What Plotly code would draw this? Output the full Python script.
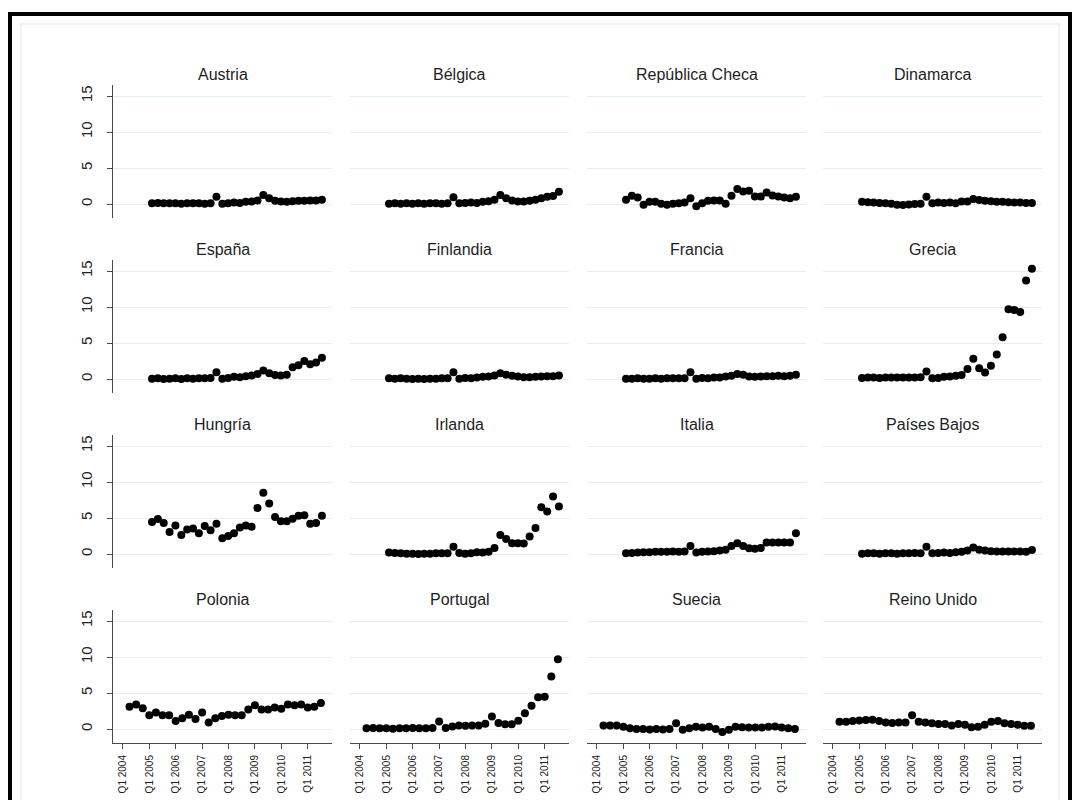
import plotly.graph_objects as go

# Quarter index: 0 = Q1 2004; observations Q2 2004 .. Q3 2011
quarters = list(range(1, 31))
tick_vals = [0, 4, 8, 12, 16, 20, 24, 28]
tick_text = ["Q1 2004", "Q1 2005", "Q1 2006", "Q1 2007",
             "Q1 2008", "Q1 2009", "Q1 2010", "Q1 2011"]
y_ticks = [0, 5, 10, 15]

countries = ["Austria", "Bélgica", "República Checa", "Dinamarca",
             "España", "Finlandia", "Francia", "Grecia",
             "Hungría", "Irlanda", "Italia", "Países Bajos",
             "Polonia", "Portugal", "Suecia", "Reino Unido"]

austria = [0.1,0.15,0.1,0.1,0.1,0.05,0.1,0.1,0.1,0.05,0.1,1.0,0.05,0.1,0.2,0.15,0.3,0.35,0.5,1.25,0.8,0.45,0.35,0.3,0.4,0.45,0.45,0.5,0.5,0.6]
belgica = [0.05,0.1,0.05,0.1,0.05,0.1,0.05,0.1,0.1,0.05,0.1,0.95,0.1,0.15,0.2,0.15,0.3,0.4,0.6,1.25,0.8,0.5,0.35,0.35,0.45,0.6,0.8,1.0,1.1,1.7]
rep_checa = [0.6,1.15,0.9,-0.1,0.3,0.3,0.05,-0.1,0.05,0.1,0.2,0.8,-0.3,0.1,0.45,0.5,0.5,0.05,1.15,2.1,1.75,1.85,1.05,1.05,1.6,1.2,1.05,0.9,0.8,1.0]
dinamarca = [0.3,0.25,0.2,0.15,0.1,0.05,-0.1,-0.15,-0.05,0.0,0.05,1.0,0.1,0.2,0.15,0.2,0.1,0.35,0.35,0.7,0.55,0.45,0.4,0.3,0.3,0.25,0.2,0.2,0.15,0.15]
espana = [0.05,0.1,0.0,0.05,0.1,0.0,0.1,0.05,0.1,0.1,0.15,0.95,0.05,0.15,0.3,0.25,0.4,0.5,0.7,1.2,0.8,0.55,0.5,0.6,1.65,1.9,2.5,2.05,2.3,2.95]
finlandia = [0.1,0.05,0.1,0.05,0.0,0.05,0.0,0.05,0.05,0.1,0.1,0.95,0.05,0.15,0.1,0.2,0.3,0.35,0.5,0.8,0.6,0.45,0.35,0.25,0.25,0.3,0.35,0.4,0.4,0.5]
francia = [0.05,0.05,0.1,0.05,0.05,0.1,0.05,0.1,0.1,0.1,0.1,0.95,0.05,0.15,0.1,0.2,0.2,0.35,0.45,0.7,0.6,0.35,0.3,0.35,0.4,0.4,0.45,0.4,0.45,0.6]
grecia = [0.15,0.2,0.2,0.15,0.2,0.2,0.2,0.2,0.2,0.2,0.25,1.05,0.1,0.15,0.3,0.35,0.45,0.55,1.4,2.8,1.5,0.9,1.85,3.4,5.8,9.7,9.6,9.3,13.7,15.3]
hungria = [4.45,4.85,4.3,3.05,3.95,2.65,3.4,3.55,2.9,3.9,3.3,4.2,2.2,2.5,2.9,3.7,3.95,3.8,6.4,8.5,7.0,5.15,4.55,4.55,4.9,5.3,5.4,4.2,4.3,5.3]
irlanda = [0.2,0.15,0.1,0.05,0.05,0.0,0.05,0.05,0.1,0.1,0.1,1.0,0.15,0.05,0.1,0.25,0.2,0.3,0.85,2.65,2.1,1.5,1.5,1.45,2.45,3.6,6.5,5.9,8.0,6.6]
italia = [0.1,0.15,0.2,0.25,0.25,0.3,0.3,0.3,0.35,0.3,0.35,1.1,0.2,0.3,0.35,0.4,0.5,0.6,1.1,1.5,1.1,0.8,0.75,0.85,1.6,1.6,1.6,1.6,1.6,2.9]
paises_bajos = [0.05,0.1,0.1,0.05,0.1,0.1,0.05,0.1,0.1,0.15,0.1,1.0,0.1,0.15,0.2,0.15,0.25,0.3,0.5,0.9,0.6,0.5,0.4,0.35,0.35,0.35,0.35,0.35,0.3,0.55]
polonia = [3.1,3.4,2.9,1.9,2.3,1.9,1.9,1.1,1.5,2.0,1.4,2.3,0.9,1.5,1.8,2.0,1.9,1.9,2.7,3.3,2.7,2.7,3.0,2.8,3.4,3.3,3.4,3.0,3.1,3.6]
portugal = [0.1,0.15,0.1,0.1,0.05,0.1,0.1,0.15,0.1,0.1,0.15,1.05,0.15,0.35,0.5,0.45,0.5,0.5,0.75,1.75,0.85,0.65,0.65,1.15,2.2,3.25,4.4,4.5,7.3,9.7]
suecia = [0.5,0.5,0.5,0.3,0.1,0.0,0.0,-0.05,0.0,-0.05,0.0,0.8,-0.1,0.1,0.3,0.2,0.3,0.0,-0.4,-0.1,0.3,0.25,0.2,0.2,0.2,0.3,0.35,0.2,0.1,0.0]
reino_unido = [1.0,1.0,1.1,1.2,1.25,1.3,1.1,0.9,0.85,0.9,0.9,1.9,1.0,0.9,0.8,0.7,0.7,0.5,0.7,0.6,0.25,0.3,0.6,1.0,1.1,0.8,0.7,0.6,0.45,0.45]

series = [austria, belgica, rep_checa, dinamarca,
          espana, finlandia, francia, grecia,
          hungria, irlanda, italia, paises_bajos,
          polonia, portugal, suecia, reino_unido]

# page body has an 8px default margin: place the figure so that it fills the window
OFF = 8
W, H = 1080 - OFF, 800 - OFF
col_left = [113, 350, 587, 823]
panel_w = 219
row_top = [85, 260, 435, 610]
panel_h = 133
title_y = [74, 249, 424, 599]


def px(x):
    return (x - OFF) / W


def py(y):
    return 1 - (y - OFF) / H


FONT = "Arial, 'Liberation Sans', Helvetica, sans-serif"
GRID = "#E5EDEF"
AXIS = "#4a4a4a"

fig = go.Figure()
layout = {}
annotations = []

for k, (name, vals) in enumerate(zip(countries, series)):
    r, c = divmod(k, 4)
    idx = "" if k == 0 else str(k + 1)
    fig.add_trace(go.Scatter(
        x=quarters, y=vals, mode="markers",
        marker=dict(size=8, color="black", line=dict(width=0)),
        xaxis="x" + idx, yaxis="y" + idx, showlegend=False,
        hoverinfo="skip"))
    bottom = (r == 3)
    xa = dict(domain=[px(col_left[c]), px(col_left[c] + panel_w)],
              anchor="y" + idx, zeroline=False, showgrid=False,
              range=[-1.5, 31.68] if bottom else [-5.655, 31.72], fixedrange=True)
    if bottom:
        xa.update(showline=True, linecolor=AXIS, linewidth=1, ticks="outside",
                  ticklen=5, tickcolor=AXIS, tickwidth=1,
                  tickvals=tick_vals, ticktext=tick_text, tickangle=-90,
                  ticklabelstandoff=2,
                  tickfont=dict(family=FONT, size=10, color="#222"))
    else:
        xa.update(showline=False, showticklabels=False, ticks="")
    ya = dict(domain=[py(row_top[r] + panel_h), py(row_top[r])],
              anchor="x" + idx, range=[-1.94, 16.53],
              tickvals=y_ticks, showgrid=True, gridcolor=GRID, gridwidth=1,
              zeroline=False, fixedrange=True)
    if c == 0:
        ya.update(showline=True, linecolor=AXIS, linewidth=1, ticks="outside",
                  ticklen=5, tickcolor=AXIS, tickwidth=1, tickangle=-90,
                  ticklabelstandoff=9,
                  tickfont=dict(family=FONT, size=15, color="#222"))
    else:
        ya.update(showline=False, showticklabels=False, ticks="")
    layout["xaxis" + idx] = xa
    layout["yaxis" + idx] = ya
    annotations.append(dict(
        text=name, x=px(col_left[c] + panel_w / 2), y=py(title_y[r]),
        xref="paper", yref="paper", xanchor="center", yanchor="middle",
        showarrow=False, font=dict(family=FONT, size=16, color="#1e1e1e")))

shapes = [
    # faint inner graph-region border
    dict(type="rect", xref="paper", yref="paper",
         x0=px(21), x1=px(1059), y0=py(830), y1=py(24),
         line=dict(color="#E3E9EC", width=1), fillcolor="rgba(0,0,0,0)", layer="below"),
    # thick black outer frame
    dict(type="rect", xref="paper", yref="paper",
         x0=px(10), x1=px(1070), y0=py(840), y1=py(14),
         line=dict(color="black", width=4), fillcolor="rgba(0,0,0,0)"),
]

fig.update_layout(
    width=W, height=H, margin=dict(l=0, r=0, t=0, b=0),
    paper_bgcolor="white", plot_bgcolor="white",
    annotations=annotations, shapes=shapes, **layout)

fig.write_html("out.html")
